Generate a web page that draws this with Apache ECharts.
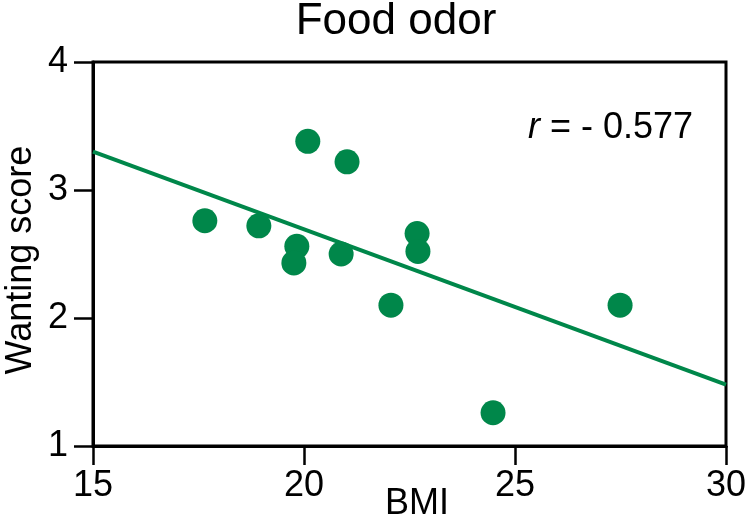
<!DOCTYPE html>
<html><head><meta charset="utf-8">
<script src="https://cdn.jsdelivr.net/npm/echarts@6/dist/echarts.min.js"></script>
<style>html,body{margin:0;padding:0;background:#fff}#c{width:750px;height:521px}</style>
</head><body><div id="c"></div>
<script>
const bmi = [17.65, 18.93, 19.83, 19.76, 20.09, 21.02, 20.88, 22.68, 22.70, 22.06, 24.48, 27.49];
const wanting = [2.76, 2.72, 2.56, 2.43, 3.38, 3.22, 2.50, 2.66, 2.52, 2.10, 1.26, 2.10];
const fitX = [15, 30];
const fitY = [3.30, 1.48];
const xTicks = [15, 20, 25, 30];
const yTicks = [1, 2, 3, 4];
const titleText = 'Food odor';
const rText = '- 0.577';

const GREEN = '#00874a';
const FONT = '"Liberation Sans", Arial, sans-serif';
const chart = echarts.init(document.getElementById('c'), null, {renderer: 'canvas'});
chart.setOption({
  backgroundColor: '#ffffff',
  animation: false,
  grid: {left: 93, right: 24, top: 62, bottom: 75, outerBoundsMode: 'none', containLabel: false,
    show: true, borderColor: '#000', borderWidth: 3, backgroundColor: 'transparent'},
  xAxis: {type: 'value', min: xTicks[0], max: xTicks[xTicks.length-1], interval: 5,
    name: 'BMI', nameLocation: 'middle', nameGap: 40, nameMoveOverlap: false,
    nameTextStyle: {fontFamily: FONT, fontSize: 36, color: '#000', padding: [0, 0, 0, 15]},
    axisLine: {show: true, lineStyle: {color: '#000', width: 3}},
    axisTick: {show: true, inside: false, length: 19, lineStyle: {color: '#000', width: 2.5}},
    axisLabel: {fontFamily: FONT, fontSize: 36, color: '#000', margin: 22},
    splitLine: {show: false}},
  yAxis: {type: 'value', min: yTicks[0], max: yTicks[yTicks.length-1], interval: 1,
    name: 'Wanting score', nameLocation: 'middle', nameGap: 54, nameMoveOverlap: false,
    nameTextStyle: {fontFamily: FONT, fontSize: 36, color: '#000', padding: [0, 12, 0, 0]},
    axisLine: {show: true, lineStyle: {color: '#000', width: 3}},
    axisTick: {show: true, inside: false, length: 19, lineStyle: {color: '#000', width: 2.5}},
    axisLabel: {fontFamily: FONT, fontSize: 36, color: '#000', margin: 25},
    splitLine: {show: false}},
  graphic: [
    {type: 'text', x: 396, y: 22, silent: true,
      style: {text: titleText, fontFamily: FONT, fontSize: 44, fill: '#000', align: 'center', verticalAlign: 'middle'}},
    {type: 'text', x: 528, y: 128, silent: true,
      style: {text: '{i|r} = ' + rText, rich: {i: {fontStyle: 'italic', fontFamily: FONT, fontSize: 36, fill: '#000'}},
        fontFamily: FONT, fontSize: 36, fill: '#000', align: 'left', verticalAlign: 'middle'}}
  ],
  series: [
    {type: 'line', data: fitX.map((x, i) => [x, fitY[i]]), symbol: 'none',
      lineStyle: {color: GREEN, width: 4}, z: 2, silent: true},
    {type: 'scatter', data: bmi.map((x, i) => [x, wanting[i]]), symbolSize: 25,
      itemStyle: {color: GREEN, opacity: 1}, z: 3}
  ]
});
</script></body></html>
